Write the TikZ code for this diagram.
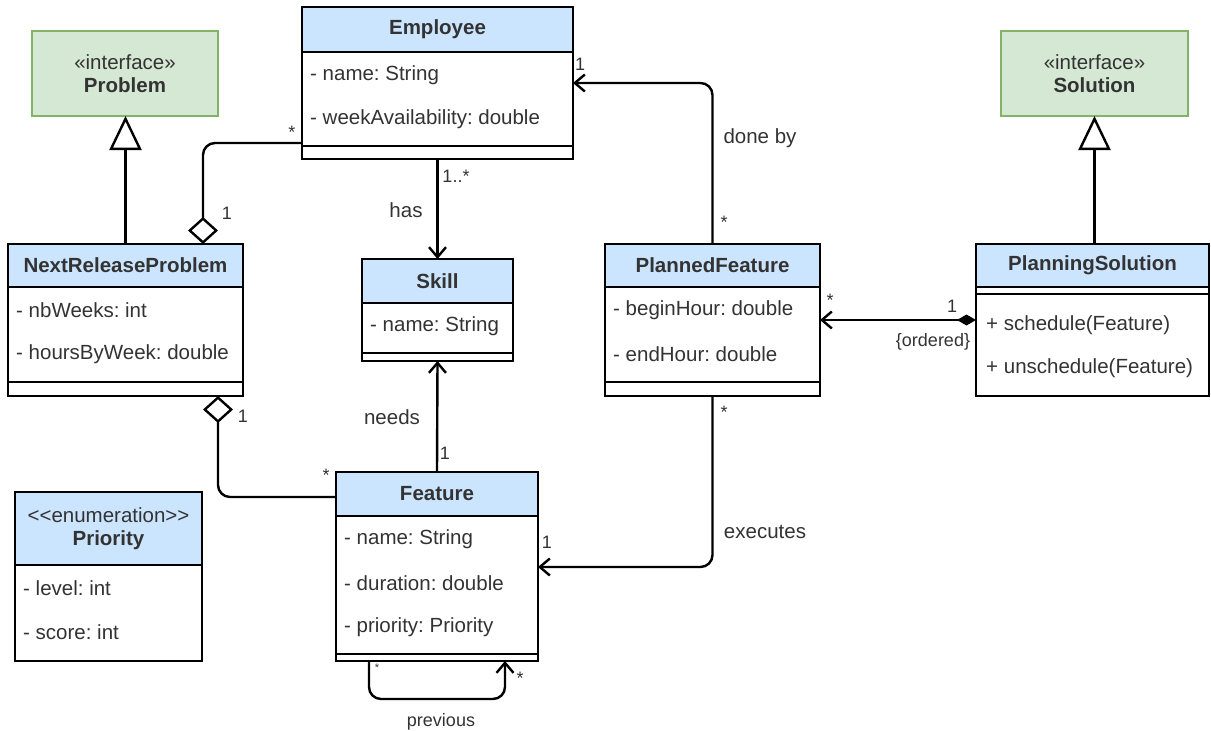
\documentclass[tikz,border=0pt]{standalone}
\usepackage{fontspec}
\setmainfont{Liberation Sans}
\usetikzlibrary{arrows.meta,positioning,calc}
\frenchspacing
\definecolor{hdrc}{HTML}{CCE5FF}
\definecolor{ifbg}{HTML}{D5E8D4}
\definecolor{ifc}{HTML}{82B366}
\definecolor{txtc}{HTML}{333333}
\tikzset{
  hdr/.style={draw=black,line width=1.3pt,fill=hdrc,inner sep=0pt,outer sep=0pt,font=\fontsize{20.5}{23.5}\selectfont\bfseries,text=txtc,align=center},
  cbody/.style={draw=black,line width=1.3pt,fill=white,inner sep=0pt,outer sep=0pt},
  mem/.style={anchor=west,inner sep=0pt,font=\fontsize{20.5}{24}\selectfont,text=txtc},
  iface/.style={draw=ifc,line width=1.3pt,fill=ifbg,minimum height=85pt,inner sep=0pt,outer sep=0pt,font=\fontsize{20.5}{23.5}\selectfont,text=txtc,align=center},
  lnk/.style={line width=2.4pt,draw=black,rounded corners=12pt},
  gen/.style={lnk,-{Triangle[length=34pt,width=32pt,fill=white]}},
  assoc/.style={lnk,-{Straight Barb[length=10pt,width=17pt]}},
  aggr/.style={lnk,{Diamond[length=27pt,width=30pt,fill=white]}-},
  comp/.style={lnk,{Diamond[length=19pt,width=11pt]}-{Straight Barb[length=10pt,width=17pt]}},
  mult/.style={font=\fontsize{18}{20}\selectfont,text=txtc,inner sep=0pt},
  role/.style={font=\fontsize{20.5}{24}\selectfont,text=txtc,inner sep=0pt},
  note/.style={font=\fontsize{18}{20}\selectfont,text=txtc,inner sep=0pt},
}
% #1 name, #2 top left, #3 width, #4 header height, #5 body height, #6 tail height, #7 title, #8 members
\newcommand{\umlclass}[8]{%
  \node[hdr,minimum width=#3pt,minimum height=#4pt,anchor=north west] (#1) at (#2) {#7};
  \node[cbody,minimum width=#3pt,minimum height=#5pt,anchor=north] (#1-b) at (#1.south) {};
  \ifnum#6>0
    \node[cbody,minimum width=#3pt,minimum height=#6pt,anchor=north] (#1-t) at (#1-b.south) {};
  \fi
  \foreach \m [count=\k from 0] in {#8} {
    \node[mem] (#1-\k) at ($(#1-b.north west)+(8,23+44*\k)$) {\m};}
}

\begin{document}
\begin{tikzpicture}[x=1pt,y=-1pt]
  \useasboundingbox (0,0) rectangle (1211,731);
  \node[iface,minimum width=186pt] (prob) at (125,73.5) {«interface»\\\textbf{Problem}};
  \node[iface,minimum width=187pt] (sol) at (1094.5,73.5) {«interface»\\\textbf{Solution}};

  \umlclass{emp}{302,7}{271}{45}{94}{13}{Employee}{- name: String,- weekAvailability: double}
  \umlclass{nrp}{8,244}{235}{43}{95}{14}{NextReleaseProblem}{- nbWeeks: int,- hoursByWeek: double}
  \umlclass{skill}{362,259}{151}{44}{50}{8}{Skill}{- name: String}
  \umlclass{pf}{605,244}{215}{43}{95}{14}{PlannedFeature}{- beginHour: double,- endHour: double}
  \umlclass{feat}{336,472}{202}{44}{138}{7}{Feature}{- name: String,- duration: double,- priority: Priority}
  \umlclass{prio}{15,492}{187}{73}{96}{0}{{\mdseries <\kern0pt<enumeration>\kern0pt>}\\Priority}{- level: int,- score: int}

  \node[hdr,minimum width=233pt,minimum height=43pt,anchor=north west] (ps) at (976,244) {PlanningSolution};
  \node[cbody,minimum width=233pt,minimum height=7pt,anchor=north] (ps-e) at (ps.south) {};
  \node[cbody,minimum width=233pt,minimum height=102pt,anchor=north] (ps-b) at (ps-e.south) {};
  \foreach \m [count=\k from 0] in {+ schedule(Feature),+ unschedule(Feature)}
    \node[mem] (ps-\k) at ($(ps-b.north west)+(10,31+43*\k)$) {\m};

  \coordinate (db) at ($(emp-b.north east)+(0,31)$);
  \coordinate (ex) at ($(feat-b.north east)+(0,51)$);
  \coordinate (cs) at ($(ps-b.north west)+(0,26)$);

  \draw[gen] (nrp.north) -- (nrp.north |- prob.south);
  \draw[gen] (sol.south |- ps.north) -- (sol.south);
  \draw[aggr] ($(nrp.north east)+(-40,0)$) |- ($(emp-t.north west)+(0,-3)$);
  \draw[aggr] ($(nrp-t.south east)+(-25,0)$) |- ($(feat.west)+(0,3)$);
  \draw[assoc] (emp-t.south) -- (skill.north);
  \draw[assoc] (feat.north) -- (skill-t.south);
  \draw[assoc] (pf.north) |- (db);
  \draw[assoc] (pf-t.south) |- (ex);
  \draw[comp] (cs) -- (cs -| pf-b.east);
  \draw[assoc] ($(feat-t.south west)+(33,0)$) -- ++(0,38) -| ($(feat-t.south east)+(-33,0)$);

  \node[mult] (m1) at (292,132) {*};
  \node[mult] (m2) at (227,213) {1};
  \node[mult] (m3) at (456,176) {1..*};
  \node[role] (r1) at (406,210) {has};
  \node[mult] (m4) at (580,64) {1};
  \node[role] (r2) at (760,138) {done by};
  \node[mult] (m5) at (724,222) {*};
  \node[mult] (m6) at (243,416) {1};
  \node[mult] (m7) at (326,475) {*};
  \node[role] (r3) at (392,417) {needs};
  \node[mult] (m8) at (445,453) {1};
  \node[mult] (m9) at (830,300) {*};
  \node[mult] (m10) at (952,306) {1};
  \node[note] (n1) at (933,342) {\{ordered\}};
  \node[mult] (m11) at (724,412) {*};
  \node[role] (r4) at (765,532) {executes};
  \node[mult] (m12) at (547,542) {1};
  \node[mult,font=\fontsize{11}{12}\selectfont] (m13) at (377,668) {*};
  \node[mult] (m14) at (520,678) {*};
  \node[note] (n2) at (441,722) {previous};
\end{tikzpicture}
\end{document}
